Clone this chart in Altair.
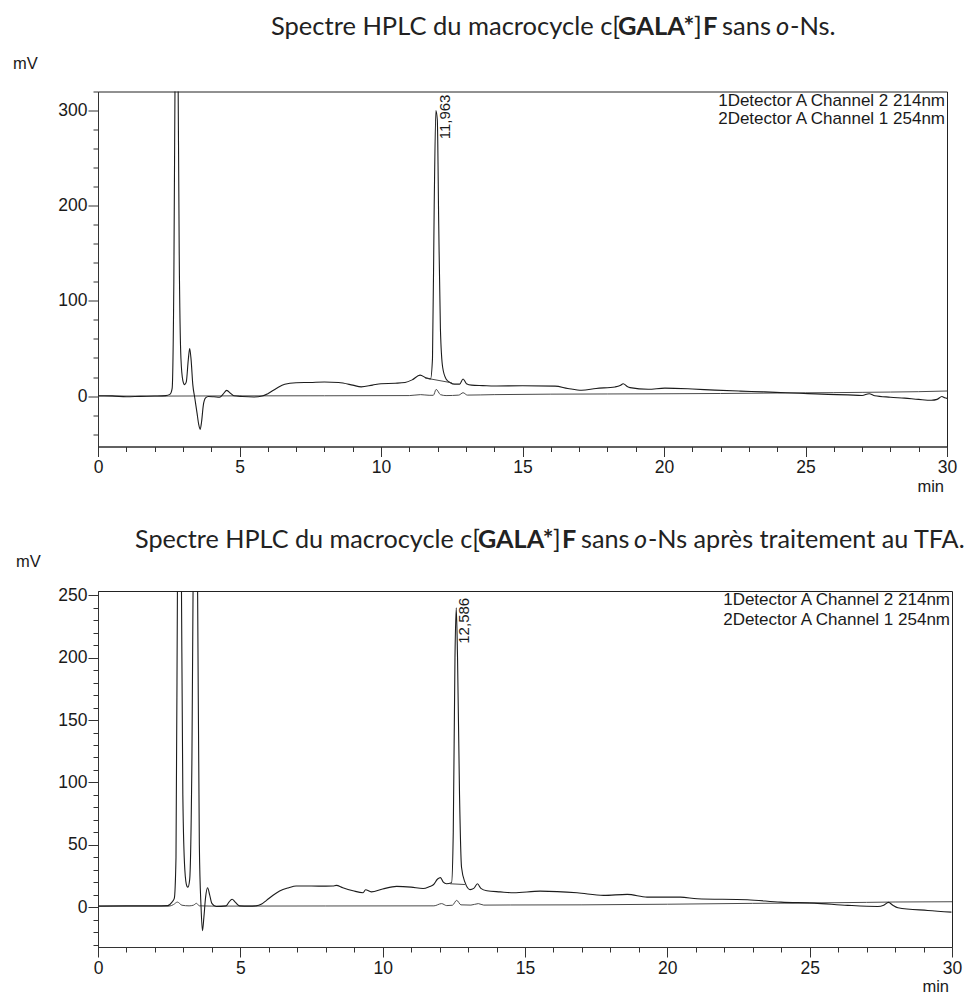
import altair as alt
import pandas as pd

# ---------------- data ----------------
# Top panel: c[GALA*]F sans o-Ns
top_214_t = [0.0, 0.5, 1.0, 1.5, 2.0, 2.4, 2.55, 2.62, 2.68, 2.74, 2.78, 2.82, 2.87, 2.93, 3.0, 3.06,
             3.12, 3.19, 3.24, 3.29, 3.35, 3.42, 3.5, 3.56, 3.61, 3.66, 3.72, 3.8, 3.9, 4.1, 4.3, 4.42,
             4.55, 4.68, 4.8, 5.1, 5.5, 5.8, 6.0, 6.3, 6.6, 7.0, 7.5, 8.0, 8.5, 9.0, 9.3, 9.7, 10.0,
             10.5, 10.85, 11.1, 11.38, 11.6, 11.75, 11.82, 11.88, 11.94, 11.99, 12.04, 12.1, 12.18,
             12.3, 12.45, 12.6, 12.78, 12.9, 13.02, 13.2, 13.6, 14.0, 15.0, 16.15, 16.6, 17.09, 17.6,
             18.27, 18.45, 18.56, 18.7, 18.8, 19.44, 20.03, 21.0, 21.8, 22.7, 23.56, 24.3, 25.09, 25.8,
             26.5, 27.0, 27.25, 27.45, 28.0, 28.5, 29.0, 29.45, 29.65, 29.82, 29.92, 30.0]
top_214_v = [0.3, 0.2, -0.8, -0.3, 0.0, 0.5, 2, 8, 120, 420, 480, 380, 150, 40, 16, 12,
             15, 38, 50, 38, 12, -2, -18, -30, -35, -27, -10, -2, -0.5, -0.8, -1.2, 2,
             6, 3, 0.3, -0.5, -1, 0, 2.5, 8, 12.5, 14, 14.3, 14.8, 14.2, 11.5, 9.6, 11.5, 13,
             13.5, 14.3, 17, 22, 19, 18, 40, 200, 300, 290, 180, 70, 30,
             18, 14, 12.5, 12.5, 18, 13, 11.5, 11, 10.5, 10.8, 10.4, 8, 6.1, 8,
             9.6, 11, 13, 10, 8.9, 7.2, 8.3, 7.4, 6.2, 5.2, 4.4, 3.4, 2.6, 1.8,
             1.2, 0.6, 2.5, 0.3, -1.2, -2.2, -3.5, -4.4, -3.5, -0.5, -1.8, -2.5]
top_254_t = [0.0, 2.5, 5.0, 8.0, 11.0, 11.4, 11.7, 11.85, 11.95, 12.1, 12.3, 12.75, 12.9, 13.05,
             14.0, 16.0, 18.0, 20.0, 22.0, 24.0, 25.0, 26.0, 27.0, 28.0, 29.0, 30.0]
top_254_v = [0.0, 0.0, 0.2, 0.3, 0.5, 1.5, 0.8, 0.8, 7.0, 1.5, 0.5, 1.0, 3.5, 1.0,
             1.5, 2.0, 2.2, 2.4, 2.7, 3.2, 3.4, 3.6, 3.9, 4.2, 4.6, 5.3]
top_base_t = [11.56, 12.5]
top_base_v = [19.0, 13.9]
top_peak_t = [11.963]
top_peak_v = [301]
top_peak_label = ["11,963"]

# Bottom panel: after TFA treatment
bot_214_t = [0.0, 1.0, 2.0, 2.45, 2.6, 2.68, 2.74, 2.8, 2.86, 2.92, 2.98, 3.05, 3.12, 3.16, 3.22,
             3.3, 3.38, 3.44, 3.5, 3.56, 3.62, 3.67, 3.72, 3.78, 3.85, 3.92, 4.0, 4.15, 4.5, 4.6,
             4.71, 4.82, 4.97, 5.3, 5.55, 5.75, 5.91, 6.15, 6.38, 6.7, 6.96, 7.5, 8.0, 8.25, 8.37,
             8.6, 8.96, 9.31, 9.4, 9.6, 10.0, 10.49, 11.0, 11.42, 11.65, 11.78, 11.93, 12.03, 12.13,
             12.24, 12.42, 12.48, 12.54, 12.585, 12.63, 12.7, 12.77, 12.89, 13.07, 13.2, 13.33, 13.45,
             13.66, 14.13, 14.6, 15.53, 16.83, 17.76, 18.59, 19.29, 20.46, 21.05, 22.81, 23.99, 25.16,
             26.34, 27.39, 27.6, 27.77, 27.92, 28.1, 29.15, 29.98]
bot_214_v = [0.8, 1.0, 1.0, 1.2, 4, 7, 40, 300, 420, 300, 90, 30, 17, 16, 22,
             120, 380, 420, 250, 50, 0, -19, -8, 8, 15.5, 10, 3, 0.5, 1, 4,
             6.3, 4, 1, 0.8, 1, 2.5, 5.2, 9.5, 12.9, 15.5, 16.9, 16.9, 16.8, 16.9, 17.4,
             15.5, 13.1, 11.5, 13.9, 12.2, 14.5, 16.6, 16, 14.9, 16.5, 17.9, 22.5, 23.6, 20,
             18.7, 19.5, 60, 200, 240, 200, 90, 32, 20, 14, 15, 18.7, 15,
             13.1, 12.2, 11.5, 12.8, 11.5, 9.4, 10.2, 8.0, 8.0, 6.7, 5.9, 4.0, 3.2,
             1.4, 0.5, 1.5, 3.8, 1.5, -0.5, -2.7, -4.0]
bot_254_t = [0.0, 2.5, 2.65, 2.79, 2.95, 3.2, 3.35, 3.46, 3.56, 4.0, 8.0, 11.8, 12.07, 12.25,
             12.45, 12.6, 12.75, 13.1, 13.36, 13.55, 14.5, 17.0, 20.0, 23.0, 25.0, 27.0, 28.0, 30.0]
bot_254_v = [0.8, 0.8, 2.0, 4.0, 1.5, 1.0, 1.5, 3.0, 1.0, 0.8, 0.9, 1.0, 2.8, 1.2,
             1.5, 5.4, 1.8, 1.6, 2.8, 1.6, 1.7, 1.8, 2.3, 3.0, 3.3, 3.8, 4.1, 4.3]
bot_base_t = [12.37, 12.89]
bot_base_v = [18.7, 18.1]
bot_peak_t = [12.586]
bot_peak_v = [240]
bot_peak_label = ["12,586"]

legend_lines = ["1Detector A Channel 2 214nm", "2Detector A Channel 1 254nm"]

x_ticks = list(range(0, 31))
top_y_ticks = list(range(-40, 321, 20))
bot_y_ticks = list(range(-30, 251, 10))

TXT = "#1a1a1a"
AX = "#333333"
SANS = "Liberation Sans"
TFONT = "Lato"


def text_layer(s, x, y, size, font=SANS, weight="normal", style="normal", align="left",
               color=TXT, baseline="middle"):
    return alt.Chart(pd.DataFrame({"s": [s]})).mark_text(
        align=align, baseline=baseline, font=font, fontSize=size,
        fontWeight=weight, fontStyle=style, color=color
    ).encode(text="s:N", x=alt.value(x), y=alt.value(y))


def panel(t1, v1, t2, v2, tb, vb, pt, pv, pl, ydom, yticks, ymaj, w, h,
          title_segs, title_y, title_size, mv_x, mv_y, min_y, legend_y, label_dx):
    xenc = alt.X("t:Q", scale=alt.Scale(domain=[0, 30], nice=False, zero=False),
                 axis=alt.Axis(values=x_ticks, title=None, grid=False,
                               labelExpr="datum.value % 5 === 0 ? datum.label : ''",
                               tickSize={"condition": {"test": "datum.value % 5 === 0", "value": 10}, "value": 5},
                               labelFont=SANS, labelFontSize=17.5, labelColor=TXT,
                               tickColor=AX, domainColor=AX, labelPadding=2,
                               labelFlush=False, labelOverlap=False))
    yenc = alt.Y("v:Q", scale=alt.Scale(domain=ydom, nice=False, zero=False),
                 axis=alt.Axis(values=yticks, title=None, grid=False,
                               labelExpr=f"datum.value % {ymaj} === 0 ? datum.label : ''",
                               tickSize={"condition": {"test": f"datum.value % {ymaj} === 0", "value": 10}, "value": 5},
                               labelFont=SANS, labelFontSize=17.5, labelColor=TXT,
                               tickColor=AX, domainColor=AX, labelPadding=1,
                               labelOverlap=False))
    d1 = pd.DataFrame({"t": t1, "v": v1})
    d2 = pd.DataFrame({"t": t2, "v": v2})
    db = pd.DataFrame({"t": tb, "v": vb})
    dp = pd.DataFrame({"t": pt, "v": pv, "s": pl})
    l1 = alt.Chart(d1).mark_line(color="#1c1c1c", strokeWidth=1.1, clip=True, interpolate="monotone").encode(x=xenc, y=yenc)
    l2 = alt.Chart(d2).mark_line(color="#4a4a4a", strokeWidth=1.0, clip=True, interpolate="monotone").encode(x=xenc, y=yenc)
    lb = alt.Chart(db).mark_line(color="#333333", strokeWidth=0.9, clip=True).encode(x=xenc, y=yenc)
    lab = alt.Chart(dp).mark_text(angle=270, align="right", baseline="middle", dx=label_dx, dy=8,
                                  font=SANS, fontSize=15, color=TXT).encode(x=xenc, y=yenc, text="s:N")
    layers = [l2, l1, lb, lab]
    for s, x, weight, style in title_segs:
        layers.append(text_layer(s, x, title_y, title_size, font=TFONT, weight=weight, style=style,
                                 color="#222222", baseline="alphabetic"))
    layers.append(text_layer("mV", mv_x, mv_y, 16.5))
    layers.append(text_layer("min", w - 3, min_y, 16.5, align="right"))
    layers.append(text_layer(legend_lines[0], w - 2, legend_y[0], 17, align="right"))
    layers.append(text_layer(legend_lines[1], w - 2, legend_y[1], 17, align="right"))
    return alt.layer(*layers).properties(width=w, height=h)


top_title = [
    ("Spectre HPLC du macrocycle c[", 173, "normal", "normal"),
    ("GALA*", 520, "bold", "normal"),
    ("]", 596, "normal", "normal"),
    ("F", 605, "bold", "normal"),
    ("sans", 624, "normal", "normal"),
    ("o", 678, "normal", "italic"),
    ("-Ns.", 692, "normal", "normal"),
]
bot_title = [
    ("Spectre HPLC du macrocycle c[", 37, "normal", "normal"),
    ("GALA*", 380, "bold", "normal"),
    ("]", 455, "normal", "normal"),
    ("F", 464, "bold", "normal"),
    ("sans", 483, "normal", "normal"),
    ("o", 536, "normal", "italic"),
    ("-Ns après traitement au TFA.", 550, "normal", "normal"),
]

top = panel(top_214_t, top_214_v, top_254_t, top_254_v, top_base_t, top_base_v,
            top_peak_t, top_peak_v, top_peak_label, [-53, 320], top_y_ticks, 100, 849, 355,
            top_title, -57, 25.5, -85, -28, 395, [9.5, 27.5], 15)
bottom = panel(bot_214_t, bot_214_v, bot_254_t, bot_254_v, bot_base_t, bot_base_v,
               bot_peak_t, bot_peak_v, bot_peak_label, [-32, 253.5], bot_y_ticks, 50, 854, 356,
               bot_title, -43, 25.2, -82, -29, 396, [9, 28.5], 10)

chart = alt.vconcat(top, bottom, spacing=31.5).properties(
    padding={"left": 4, "top": 5.5, "right": 0, "bottom": 0}
).configure_view(stroke="#222222", strokeWidth=1)

chart.save("out.html", embed_options={"renderer": "svg", "actions": False})
